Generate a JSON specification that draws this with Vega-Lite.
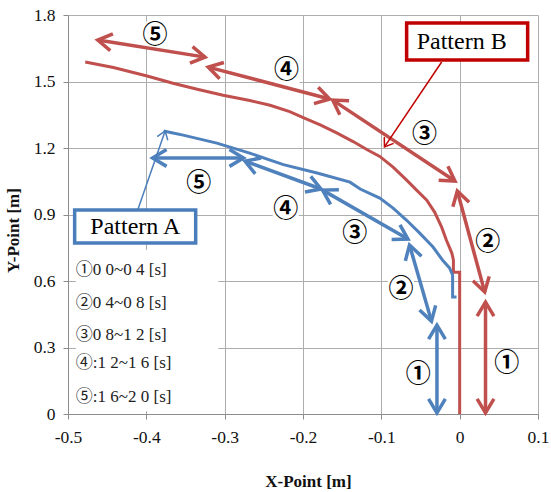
{
  "$schema": "https://vega.github.io/schema/vega-lite/v6.json",
  "width": 470,
  "height": 399,
  "autosize": {"type": "none"},
  "padding": {"left": 68, "top": 15, "right": 13, "bottom": 78},
  "background": "white",
  "config": {"view": {"stroke": null}, "font": "Liberation Serif"},
  "datasets": {
    "curves": [
      {"pattern": "B", "order": 1, "x": -0.478, "y": 1.588},
      {"pattern": "B", "order": 2, "x": -0.442, "y": 1.563},
      {"pattern": "B", "order": 3, "x": -0.399, "y": 1.525},
      {"pattern": "B", "order": 4, "x": -0.366, "y": 1.492},
      {"pattern": "B", "order": 5, "x": -0.335, "y": 1.465},
      {"pattern": "B", "order": 6, "x": -0.302, "y": 1.438},
      {"pattern": "B", "order": 7, "x": -0.268, "y": 1.414},
      {"pattern": "B", "order": 8, "x": -0.242, "y": 1.393},
      {"pattern": "B", "order": 9, "x": -0.217, "y": 1.364},
      {"pattern": "B", "order": 10, "x": -0.199, "y": 1.336},
      {"pattern": "B", "order": 11, "x": -0.178, "y": 1.304},
      {"pattern": "B", "order": 12, "x": -0.157, "y": 1.268},
      {"pattern": "B", "order": 13, "x": -0.136, "y": 1.229},
      {"pattern": "B", "order": 14, "x": -0.118, "y": 1.192},
      {"pattern": "B", "order": 15, "x": -0.102, "y": 1.162},
      {"pattern": "B", "order": 16, "x": -0.085, "y": 1.114},
      {"pattern": "B", "order": 17, "x": -0.068, "y": 1.056},
      {"pattern": "B", "order": 18, "x": -0.055, "y": 1.010},
      {"pattern": "B", "order": 19, "x": -0.042, "y": 0.965},
      {"pattern": "B", "order": 20, "x": -0.032, "y": 0.911},
      {"pattern": "B", "order": 21, "x": -0.023, "y": 0.843},
      {"pattern": "B", "order": 22, "x": -0.017, "y": 0.785},
      {"pattern": "B", "order": 23, "x": -0.010, "y": 0.726},
      {"pattern": "B", "order": 24, "x": -0.008, "y": 0.695},
      {"pattern": "B", "order": 25, "x": -0.008, "y": 0.640},
      {"pattern": "B", "order": 26, "x": 0.0, "y": 0.640},
      {"pattern": "B", "order": 27, "x": 0.0, "y": 0.0},
      {"pattern": "A", "order": 1, "x": -0.378, "y": 1.277},
      {"pattern": "A", "order": 2, "x": -0.366, "y": 1.268},
      {"pattern": "A", "order": 3, "x": -0.353, "y": 1.258},
      {"pattern": "A", "order": 4, "x": -0.310, "y": 1.222},
      {"pattern": "A", "order": 5, "x": -0.268, "y": 1.177},
      {"pattern": "A", "order": 6, "x": -0.225, "y": 1.125},
      {"pattern": "A", "order": 7, "x": -0.182, "y": 1.087},
      {"pattern": "A", "order": 8, "x": -0.140, "y": 1.046},
      {"pattern": "A", "order": 9, "x": -0.127, "y": 1.015},
      {"pattern": "A", "order": 10, "x": -0.102, "y": 0.974},
      {"pattern": "A", "order": 11, "x": -0.085, "y": 0.929},
      {"pattern": "A", "order": 12, "x": -0.068, "y": 0.875},
      {"pattern": "A", "order": 13, "x": -0.051, "y": 0.816},
      {"pattern": "A", "order": 14, "x": -0.034, "y": 0.753},
      {"pattern": "A", "order": 15, "x": -0.022, "y": 0.695},
      {"pattern": "A", "order": 16, "x": -0.013, "y": 0.659},
      {"pattern": "A", "order": 17, "x": -0.009, "y": 0.627},
      {"pattern": "A", "order": 18, "x": -0.009, "y": 0.528},
      {"pattern": "A", "order": 19, "x": -0.004, "y": 0.528}
    ],
    "arrows": [
      {"pattern": "B", "step": 5, "x1": -0.462, "y1": 1.687, "x2": -0.325, "y2": 1.610},
      {"pattern": "B", "step": 4, "x1": -0.321, "y1": 1.565, "x2": -0.166, "y2": 1.421},
      {"pattern": "B", "step": 3, "x1": -0.162, "y1": 1.416, "x2": -0.006, "y2": 1.051},
      {"pattern": "B", "step": 2, "x1": -0.003, "y1": 1.006, "x2": 0.032, "y2": 0.550},
      {"pattern": "B", "step": 1, "x1": 0.033, "y1": 0.505, "x2": 0.033, "y2": 0.005},
      {"pattern": "A", "step": 5, "x1": -0.392, "y1": 1.155, "x2": -0.276, "y2": 1.155},
      {"pattern": "A", "step": 4, "x1": -0.274, "y1": 1.141, "x2": -0.177, "y2": 1.015},
      {"pattern": "A", "step": 3, "x1": -0.175, "y1": 1.010, "x2": -0.066, "y2": 0.789},
      {"pattern": "A", "step": 2, "x1": -0.064, "y1": 0.762, "x2": -0.036, "y2": 0.419},
      {"pattern": "A", "step": 1, "x1": -0.029, "y1": 0.401, "x2": -0.029, "y2": 0.005}
    ],
    "steplabels": [
      {"pattern": "B", "label": "⑤", "x": -0.389, "y": 1.712},
      {"pattern": "B", "label": "④", "x": -0.221, "y": 1.552},
      {"pattern": "B", "label": "③", "x": -0.045, "y": 1.261},
      {"pattern": "B", "label": "②", "x": 0.036, "y": 0.777},
      {"pattern": "B", "label": "①", "x": 0.060, "y": 0.232},
      {"pattern": "A", "label": "⑤", "x": -0.333, "y": 1.042},
      {"pattern": "A", "label": "④", "x": -0.222, "y": 0.927},
      {"pattern": "A", "label": "③", "x": -0.134, "y": 0.818},
      {"pattern": "A", "label": "②", "x": -0.075, "y": 0.564},
      {"pattern": "A", "label": "①", "x": -0.053, "y": 0.180}
    ],
    "leaders": [
      {"pattern": "B", "x1": -0.023, "y1": 1.588, "x2": -0.096, "y2": 1.205},
      {"pattern": "A", "x1": -0.411, "y1": 0.920, "x2": -0.376, "y2": 1.277}
    ],
    "boxes": [
      {"pattern": "B", "text": "Pattern B", "x1": -0.0677, "x2": 0.0868, "y1": 1.597, "y2": 1.764, "tx": 0.0026, "ty": 1.678},
      {"pattern": "A", "text": "Pattern A", "x1": -0.4915, "x2": -0.337, "y1": 0.771, "y2": 0.920, "tx": -0.414, "ty": 0.843}
    ],
    "timing": [
      {"text": "①0 0~0 4 [s]", "x": -0.490, "y": 0.650},
      {"text": "②0 4~0 8 [s]", "x": -0.490, "y": 0.501},
      {"text": "③0 8~1 2 [s]", "x": -0.490, "y": 0.356},
      {"text": "④:1 2~1 6 [s]", "x": -0.490, "y": 0.230},
      {"text": "⑤:1 6~2 0 [s]", "x": -0.490, "y": 0.077}
    ],
    "legendbg": [
      {"x1": -0.490, "x2": -0.308, "y1": 0.012, "y2": 0.740}
    ]
  },
  "layer": [
    {
      "data": {"name": "legendbg"},
      "mark": {"type": "rect", "fill": "white", "stroke": null},
      "encoding": {
        "x": {
          "field": "x1", "type": "quantitative",
          "scale": {"domain": [-0.5, 0.1], "nice": false, "zero": false},
          "axis": {
            "title": "X-Point  [m]",
            "values": [-0.5, -0.4, -0.3, -0.2, -0.1, 0, 0.1],
            "format": "~g",
            "labelExpr": "replace(datum.label, '−', '-')",
            "grid": true, "gridColor": "#ADADAD", "gridWidth": 1,
            "domainColor": "#8C8C8C", "tickColor": "#8C8C8C", "tickSize": 5,
            "labelFont": "Liberation Serif", "labelFontSize": 17.5, "labelColor": "#111",
            "labelPadding": 9, "labelFlush": false, "labelOverlap": false,
            "titleFont": "Liberation Serif", "titleFontSize": 17, "titleFontWeight": "bold", "titleColor": "#111",
            "titleX": 240, "titleY": 67, "titleBaseline": "middle", "titleAlign": "center"
          }
        },
        "x2": {"field": "x2"},
        "y": {
          "field": "y1", "type": "quantitative",
          "scale": {"domain": [0, 1.8], "nice": false, "zero": false},
          "axis": {
            "title": "Y-Point  [m]",
            "values": [0, 0.3, 0.6, 0.9, 1.2, 1.5, 1.8],
            "format": "~g",
            "grid": true, "gridColor": "#ADADAD", "gridWidth": 1,
            "domainColor": "#8C8C8C", "tickColor": "#8C8C8C", "tickSize": 5,
            "labelFont": "Liberation Serif", "labelFontSize": 17.5, "labelColor": "#111",
            "labelPadding": 8, "labelFlush": false, "labelOverlap": false,
            "titleFont": "Liberation Serif", "titleFontSize": 17, "titleFontWeight": "bold", "titleColor": "#111",
            "titleAngle": -90, "titleX": -55, "titleY": 215, "titleBaseline": "middle", "titleAlign": "center"
          }
        },
        "y2": {"field": "y2"}
      }
    },
    {
      "data": {"name": "steplabels"},
      "mark": {"type": "point", "shape": "square", "size": 676, "filled": true, "fill": "white", "stroke": null, "opacity": 1},
      "encoding": {
        "x": {"field": "x", "type": "quantitative"},
        "y": {"field": "y", "type": "quantitative"}
      }
    },
    {
      "data": {"name": "curves"},
      "mark": {"type": "line", "strokeWidth": 3, "strokeJoin": "miter"},
      "encoding": {
        "x": {"field": "x", "type": "quantitative"},
        "y": {"field": "y", "type": "quantitative"},
        "order": {"field": "order", "type": "quantitative"},
        "detail": {"field": "pattern"},
        "color": {"field": "pattern", "type": "nominal", "scale": {"domain": ["A", "B"], "range": ["#4F81BD", "#C0504D"]}, "legend": null}
      }
    },
    {
      "data": {"name": "arrows"},
      "mark": {"type": "rule", "strokeWidth": 3.5},
      "encoding": {
        "x": {"field": "x1", "type": "quantitative"},
        "y": {"field": "y1", "type": "quantitative"},
        "x2": {"field": "x2"},
        "y2": {"field": "y2"},
        "color": {"field": "pattern", "type": "nominal", "legend": null}
      }
    },
    {
      "data": {"name": "arrows"},
      "transform": [
        {"calculate": "atan2((datum.x2 - datum.x1) * 783.33, (datum.y2 - datum.y1) * 221.67) * 180 / PI", "as": "ang"}
      ],
      "mark": {"type": "point", "shape": "M-0.6,1L0,0L0.6,1", "size": 784, "filled": false, "strokeWidth": 3.5, "opacity": 1},
      "encoding": {
        "x": {"field": "x2", "type": "quantitative"},
        "y": {"field": "y2", "type": "quantitative"},
        "angle": {"field": "ang", "type": "quantitative", "scale": null},
        "color": {"field": "pattern", "type": "nominal", "legend": null}
      }
    },
    {
      "data": {"name": "arrows"},
      "transform": [
        {"calculate": "atan2((datum.x1 - datum.x2) * 783.33, (datum.y1 - datum.y2) * 221.67) * 180 / PI", "as": "ang"}
      ],
      "mark": {"type": "point", "shape": "M-0.6,1L0,0L0.6,1", "size": 784, "filled": false, "strokeWidth": 3.5, "opacity": 1},
      "encoding": {
        "x": {"field": "x1", "type": "quantitative"},
        "y": {"field": "y1", "type": "quantitative"},
        "angle": {"field": "ang", "type": "quantitative", "scale": null},
        "color": {"field": "pattern", "type": "nominal", "legend": null}
      }
    },
    {
      "data": {"name": "steplabels"},
      "mark": {"type": "text", "font": "Noto Sans CJK JP", "fontSize": 25, "fontWeight": "bold", "color": "#000", "align": "center", "baseline": "middle"},
      "encoding": {
        "x": {"field": "x", "type": "quantitative"},
        "y": {"field": "y", "type": "quantitative"},
        "text": {"field": "label"}
      }
    },
    {
      "data": {"name": "leaders"},
      "mark": {"type": "rule", "strokeWidth": 1.5},
      "encoding": {
        "x": {"field": "x1", "type": "quantitative"},
        "y": {"field": "y1", "type": "quantitative"},
        "x2": {"field": "x2"},
        "y2": {"field": "y2"},
        "stroke": {"field": "pattern", "type": "nominal", "scale": {"domain": ["A", "B"], "range": ["#4A7EBB", "#C00000"]}, "legend": null}
      }
    },
    {
      "data": {"name": "leaders"},
      "transform": [
        {"calculate": "atan2((datum.x2 - datum.x1) * 783.33, (datum.y2 - datum.y1) * 221.67) * 180 / PI", "as": "ang"}
      ],
      "mark": {"type": "point", "shape": "M-0.7,1L0,0L0.7,1", "size": 256, "filled": false, "strokeWidth": 1.5, "opacity": 1},
      "encoding": {
        "x": {"field": "x2", "type": "quantitative"},
        "y": {"field": "y2", "type": "quantitative"},
        "angle": {"field": "ang", "type": "quantitative", "scale": null},
        "stroke": {"field": "pattern", "type": "nominal", "legend": null}
      }
    },
    {
      "data": {"name": "boxes"},
      "mark": {"type": "rect", "fill": "white", "strokeWidth": 3.5},
      "encoding": {
        "x": {"field": "x1", "type": "quantitative"},
        "x2": {"field": "x2"},
        "y": {"field": "y1", "type": "quantitative"},
        "y2": {"field": "y2"},
        "stroke": {"field": "pattern", "type": "nominal", "scale": {"domain": ["A", "B"], "range": ["#0070C0", "#C00000"]}, "legend": null}
      }
    },
    {
      "data": {"name": "boxes"},
      "mark": {"type": "text", "font": "Liberation Serif", "fontSize": 24, "color": "#000", "align": "center", "baseline": "middle"},
      "encoding": {
        "x": {"field": "tx", "type": "quantitative"},
        "y": {"field": "ty", "type": "quantitative"},
        "text": {"field": "text"}
      }
    },
    {
      "data": {"name": "timing"},
      "mark": {"type": "text", "font": "Liberation Serif, Noto Sans CJK JP", "fontSize": 17, "color": "#222", "align": "left", "baseline": "middle"},
      "encoding": {
        "x": {"field": "x", "type": "quantitative"},
        "y": {"field": "y", "type": "quantitative"},
        "text": {"field": "text"}
      }
    }
  ]
}
